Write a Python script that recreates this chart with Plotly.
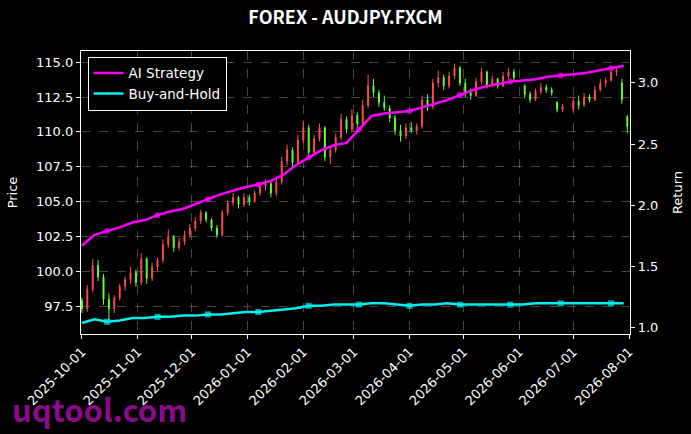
import pandas as pd
import plotly.graph_objects as go

# ----------------- DATA ----------------- #

# candles every 3 calendar days from 2025-10-01 (None = no bar)
opens = [97.9, 97.3, 98.7, 100.4, 99.6, 98.0, 97.3, 98.1, 98.9, 99.4,
         99.9, 99.2, 100.9, 99.5, 100.3, 100.8, 101.9, 102.5, 101.7, 102.1,
         102.6, 103.1, 103.6, 104.2, 103.7, 103.1, 102.6, 104.2, 104.9, 105.3,
         104.8, 105.3, 105.0, 105.6, 106.1, 106.3, 105.6, 106.4, 107.9, 108.7,
         107.8, 109.4, 110.3, 108.5, 109.5, 110.3, 108.2, 108.7, 109.6, 110.9,
         110.2, 111.2, 110.6, 111.9, 113.3, 112.8, 112.1, 111.7, 111.0, 110.1,
         109.7, 110.3, 110.1, 110.4, 112.3, 111.8, 113.5, 113.9, 113.3, 114.0,
         114.6, 113.5, 112.8, 112.6, 113.6, 114.3, 113.4, 113.8, 113.3, 114.0,
         114.3, None, 113.3, 112.7, 112.3, 112.9, 113.2, 113.0, 112.1, 111.6,
         None, 111.6, 112.2, 111.9, 112.5, 112.3, 113.0, 113.5, 113.7, 114.3,
         113.5, 111.1]
highs = [98.1, 99.0, 100.9, 100.8, 99.8, 98.4, 98.3, 99.1, 99.6, 100.3,
         100.1, 101.3, 101.0, 100.6, 101.0, 102.3, 103.0, 102.6, 102.4, 102.9,
         103.4, 103.9, 104.4, 104.3, 103.8, 103.3, 104.4, 105.1, 105.6, 105.4,
         105.6, 105.5, 105.8, 106.4, 106.6, 106.4, 106.6, 108.2, 109.1, 108.9,
         109.8, 110.8, 110.5, 109.8, 110.6, 110.4, 109.0, 109.9, 111.3, 111.1,
         111.6, 111.4, 112.3, 114.1, 113.8, 113.0, 112.6, 111.9, 111.2, 110.5,
         110.6, 110.7, 110.6, 112.6, 112.7, 113.8, 114.4, 114.1, 114.3, 114.9,
         114.7, 113.8, 113.1, 113.9, 114.6, 114.4, 114.0, 113.9, 114.3, 114.6,
         114.5, None, 113.4, 112.9, 113.1, 113.5, 113.4, 113.2, 112.2, 112.0,
         None, 112.5, 112.6, 112.8, 112.7, 113.3, 113.8, 113.9, 114.6, 114.7,
         113.8, 111.2]
lows = [97.0, 97.1, 98.5, 99.3, 97.6, 96.5, 97.0, 97.9, 98.6, 99.1,
        98.9, 99.0, 99.1, 99.3, 100.0, 100.6, 101.7, 101.4, 101.5, 101.9,
        102.4, 102.9, 103.4, 103.5, 102.9, 102.4, 102.5, 104.0, 104.7, 104.5,
        104.6, 104.7, 104.9, 105.4, 105.8, 105.3, 105.4, 106.2, 107.6, 107.4,
        107.6, 109.2, 108.2, 108.3, 109.3, 107.9, 107.7, 108.5, 109.4, 109.9,
        110.0, 110.3, 110.5, 111.7, 112.5, 111.8, 111.5, 110.7, 109.8, 109.3,
        109.5, 109.9, 109.8, 110.2, 111.5, 111.6, 113.2, 113.0, 113.1, 113.8,
        113.3, 112.5, 112.3, 112.5, 113.4, 113.1, 113.2, 113.1, 113.2, 113.8,
        113.7, None, 112.4, 112.1, 112.2, 112.7, 112.8, 112.6, 111.4, 111.4,
        None, 111.4, 111.6, 111.8, 112.1, 112.2, 112.9, 113.2, 113.6, 114.0,
        112.0, 109.9]
closes = [97.3, 98.7, 100.4, 99.6, 98.0, 97.3, 98.1, 98.9, 99.4, 99.9,
          99.2, 100.9, 99.5, 100.3, 100.8, 101.9, 102.5, 101.7, 102.1, 102.6,
          103.1, 103.6, 104.2, 103.7, 103.1, 102.6, 104.2, 104.9, 105.3, 104.8,
          105.3, 105.0, 105.6, 106.1, 106.3, 105.6, 106.4, 107.9, 108.7, 107.8,
          109.4, 110.3, 108.5, 109.5, 110.3, 108.2, 108.7, 109.6, 110.9, 110.2,
          111.2, 110.6, 111.9, 113.3, 112.8, 112.1, 111.7, 111.0, 110.1, 109.7,
          110.3, 110.1, 110.4, 112.3, 111.8, 113.5, 113.9, 113.3, 114.0, 114.6,
          113.5, 112.8, 112.6, 113.6, 114.3, 113.4, 113.8, 113.3, 114.0, 114.3,
          113.9, None, 112.7, 112.3, 112.9, 113.2, 113.0, 112.8, 111.6, 111.8,
          None, 112.2, 111.9, 112.5, 112.3, 113.0, 113.5, 113.7, 114.3, 114.4,
          112.3, 110.4]

# weekly cumulative returns from 2025-10-01
ai_strategy = [1.67, 1.76, 1.79, 1.82, 1.86, 1.88, 1.92, 1.95, 1.97, 2.01,
               2.05, 2.09, 2.12, 2.15, 2.17, 2.20, 2.25, 2.33, 2.39, 2.45,
               2.49, 2.51, 2.62, 2.73, 2.75, 2.76, 2.77, 2.80, 2.83, 2.86,
               2.90, 2.94, 2.97, 2.99, 3.01, 3.02, 3.03, 3.05, 3.06, 3.07,
               3.08, 3.10, 3.12, 3.14]
buy_hold = [1.04, 1.07, 1.05, 1.06, 1.08, 1.08, 1.09, 1.09, 1.10, 1.10,
            1.11, 1.11, 1.12, 1.13, 1.13, 1.14, 1.15, 1.16, 1.18, 1.18,
            1.19, 1.19, 1.19, 1.20, 1.20, 1.19, 1.18, 1.19, 1.19, 1.20,
            1.19, 1.19, 1.19, 1.19, 1.19, 1.19, 1.20, 1.20, 1.20, 1.20,
            1.20, 1.20, 1.20, 1.20]

# ----------------- FRAMES ----------------- #

bars = pd.DataFrame({"open": opens, "high": highs, "low": lows, "close": closes})
bars["date"] = pd.date_range("2025-10-01", periods=len(bars), freq="3D")
bars = bars.dropna()

rets = pd.DataFrame({"ai": ai_strategy, "bh": buy_hold})
rets["date"] = pd.date_range("2025-10-01", periods=len(rets), freq="7D")

# sparse markers, like matplotlib markevery
mk_size = [6 if i % 4 == 2 else 0 for i in range(len(rets))]

# ----------------- PLOTTING ----------------- #

fig = go.Figure()

fig.add_trace(go.Candlestick(x=bars["date"], open=bars["open"], high=bars["high"],
                             low=bars["low"], close=bars["close"],
                             increasing=dict(line=dict(color="#ff4d4d", width=1), fillcolor="#ff4d4d"),
                             decreasing=dict(line=dict(color="#66ff33", width=1), fillcolor="#66ff33"),
                             showlegend=False))

fig.add_trace(go.Scatter(x=rets["date"], y=rets["ai"], name="AI Strategy", yaxis="y2",
                         mode="lines+markers", line=dict(color="#ff00ff", width=2.5),
                         marker=dict(size=mk_size, symbol="circle", color="#ff00ff",
                                     line=dict(width=0))))
fig.add_trace(go.Scatter(x=rets["date"], y=rets["bh"], name="Buy-and-Hold", yaxis="y2",
                         mode="lines+markers", line=dict(color="#00f0f0", width=2.5),
                         marker=dict(size=mk_size, symbol="square", color="#00f0f0",
                                     line=dict(width=0))))

grid = dict(showgrid=True, gridcolor="rgba(150,150,150,0.45)", griddash="dash", gridwidth=1)
axis = dict(showline=True, linecolor="white", linewidth=1.2, ticks="outside",
            tickcolor="white", ticklen=4, zeroline=False, automargin=False,
            tickfont=dict(color="white", size=13, family="DejaVu Sans"))

fig.update_layout(
    width=691, height=434,
    paper_bgcolor="black", plot_bgcolor="black",
    margin=dict(l=81, r=61, t=51, b=100),
    boxgap=0.75,
    font=dict(family="DejaVu Sans", color="white", size=13),
    title=dict(text="<b>FOREX - AUDJPY.FXCM</b>", x=0.5, xanchor="center",
               y=0.96, yanchor="middle",
               font=dict(family="Noto Sans CJK SC", size=18, color="white")),
    xaxis=dict(**axis, **grid, mirror=True, type="date", tickformat="%Y-%m-%d",
               dtick="M1", tick0="2025-10-01", tickangle=-45,
               range=["2025-09-30 12:00", "2026-08-01 12:00"],
               rangeslider=dict(visible=False)),
    yaxis=dict(**axis, **grid, range=[95.5, 115.8], dtick=2.5, tick0=97.5,
               tickformat=".1f", title=dict(text="Price", font=dict(size=13))),
    yaxis2=dict(**axis, showgrid=False, overlaying="y", side="right",
                range=[0.95, 3.26], dtick=0.5, tickformat=".1f",
                title=dict(text="Return", font=dict(size=13))),
    legend=dict(x=0.012, y=0.98, xanchor="left", yanchor="top",
                bgcolor="black", bordercolor="white", borderwidth=1,
                font=dict(color="white", size=13.5)),
)

fig.add_annotation(text="<b>uqtool.com</b>", xref="paper", yref="paper",
                   x=-0.13, y=-0.178, xanchor="left", yanchor="top", showarrow=False,
                   font=dict(family="Noto Sans CJK SC", size=31, color="#8b0a8b"))

# drop the browser's default page margin so the figure fills the window
fig.write_html("out.html", config={"displayModeBar": False},
               post_script="document.body.style.margin='0';")
